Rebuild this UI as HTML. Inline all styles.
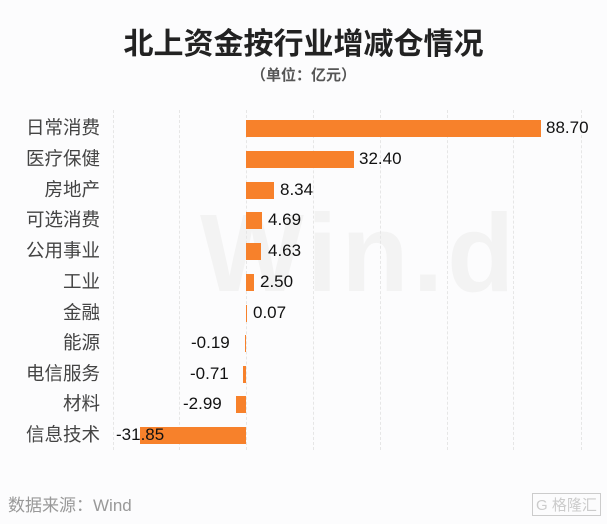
<!DOCTYPE html>
<html><head><meta charset="utf-8"><style>
body{margin:0;background:#fcfcfd;}
.c{position:relative;width:607px;height:524px;overflow:hidden;background:#fcfcfd;font-family:"Liberation Sans","Noto Sans CJK SC",sans-serif;}
.t{position:absolute;left:0;width:607px;text-align:center;}
.g{position:absolute;top:110px;height:340px;border-left:1px dashed #e6e6e6;}
.l{position:absolute;right:507px;font-size:18.5px;color:#444;line-height:20px;white-space:nowrap;}
.b{position:absolute;height:17px;background:#f7812b;}
.v{position:absolute;font-size:17px;color:#111;line-height:20px;}
</style></head><body><div class="c">
<div class="t" style="top:19px;font-size:30px;font-weight:bold;color:#222;">北上资金按行业增减仓情况</div>
<div class="t" style="top:64px;font-size:15px;font-weight:bold;color:#555;">（单位：亿元）</div>
<div style="position:absolute;left:200px;top:190px;font-size:110px;font-weight:bold;color:#f3f3f3;letter-spacing:4px;">Win.d</div>
<div class="g" style="left:113px"></div><div class="g" style="left:179px"></div><div class="g" style="left:246px"></div><div class="g" style="left:313px"></div><div class="g" style="left:380px"></div><div class="g" style="left:447px"></div><div class="g" style="left:513px"></div><div class="g" style="left:581px"></div>

<div class="l" style="top:118px">日常消费</div><div class="b" style="left:246px;width:295px;top:120px"></div><div class="v" style="left:546px;top:118px">88.70</div>
<div class="l" style="top:149px">医疗保健</div><div class="b" style="left:246px;width:108px;top:151px"></div><div class="v" style="left:359px;top:149px">32.40</div>
<div class="l" style="top:180px">房地产</div><div class="b" style="left:246px;width:28px;top:182px"></div><div class="v" style="left:280px;top:180px">8.34</div>
<div class="l" style="top:210px">可选消费</div><div class="b" style="left:246px;width:16px;top:212px"></div><div class="v" style="left:268px;top:210px">4.69</div>
<div class="l" style="top:241px">公用事业</div><div class="b" style="left:246px;width:15px;top:243px"></div><div class="v" style="left:268px;top:241px">4.63</div>
<div class="l" style="top:272px">工业</div><div class="b" style="left:246px;width:8px;top:274px"></div><div class="v" style="left:260px;top:272px">2.50</div>
<div class="l" style="top:303px">金融</div><div class="b" style="left:246px;width:1px;top:305px"></div><div class="v" style="left:253px;top:303px">0.07</div>
<div class="l" style="top:333px">能源</div><div class="b" style="left:245px;width:1px;top:335px"></div><div class="v" style="left:191px;top:333px">-0.19</div>
<div class="l" style="top:364px">电信服务</div><div class="b" style="left:243px;width:3px;top:366px"></div><div class="v" style="left:190px;top:364px">-0.71</div>
<div class="l" style="top:394px">材料</div><div class="b" style="left:236px;width:10px;top:396px"></div><div class="v" style="left:183px;top:394px">-2.99</div>
<div class="l" style="top:425px">信息技术</div><div class="b" style="left:140px;width:106px;top:427px"></div><div class="v" style="left:116px;top:425px">-31.85</div>

<div style="position:absolute;left:8px;top:491px;font-size:17px;color:#999;">数据来源：Wind</div>
<div style="position:absolute;left:532px;top:493px;font-size:15px;color:#ccc;border:1px solid #ccc;padding:0 3px;">G 格隆汇</div>
</div></body></html>
